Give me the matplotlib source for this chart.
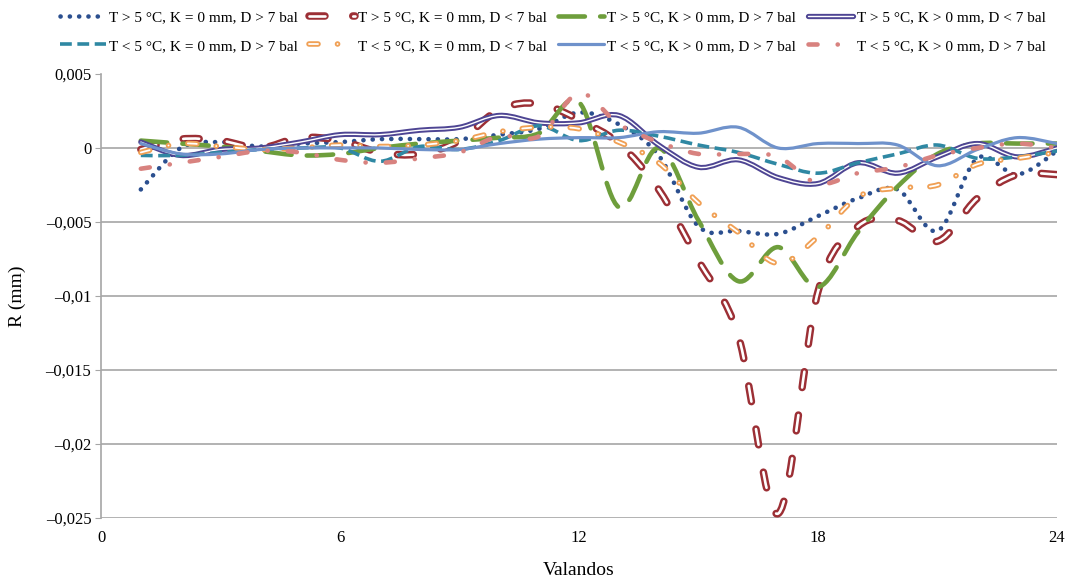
"""Hourly R (mm) for eight weather groups, smoothed lines like the Excel original."""
import numpy as np
import matplotlib
matplotlib.use("Agg")
import matplotlib.pyplot as plt
import matplotlib.patheffects as pe
from matplotlib.lines import Line2D
from matplotlib.patches import PathPatch
from matplotlib.path import Path

plt.rcParams["font.family"] = ["Liberation Serif", "DejaVu Serif"]
plt.rcParams["lines.scale_dashes"] = False  # dash lengths in points, not x linewidth

hours = list(range(1, 25))

labels = [
    "T > 5 °C, K = 0 mm, D > 7 bal",
    "T > 5 °C, K = 0 mm, D < 7 bal",
    "T > 5 °C, K > 0 mm, D > 7 bal",
    "T > 5 °C, K > 0 mm, D < 7 bal",
    "T < 5 °C, K = 0 mm, D > 7 bal",
    "T < 5 °C, K = 0 mm, D < 7 bal",
    "T < 5 °C, K > 0 mm, D > 7 bal",
    "T < 5 °C, K > 0 mm, D > 7 bal",
]

warm_dry_calm = [-0.0028, 0.0000, 0.0004, 0.0001, 0.0003, 0.0004, 0.0006, 0.0006,
                 0.0006, 0.0009, 0.0013, 0.0024, 0.0016, -0.0005, -0.0053, -0.0056,
                 -0.0058, -0.0046, -0.0034, -0.0028, -0.0056, -0.0007, -0.0018, -0.0002]
warm_dry_windy = [-0.0001, 0.0006, 0.0005, 0.0000, 0.0007, 0.0005, -0.0003, -0.0004,
                  0.0005, 0.0026, 0.0030, 0.0019, 0.0003, -0.0028, -0.0076, -0.0127,
                  -0.0247, -0.0097, -0.0053, -0.0049, -0.0063, -0.0034, -0.0018, -0.0018]
warm_wet_calm = [0.0005, 0.0003, 0.0001, -0.0002, -0.0005, -0.0004, 0.0000, 0.0003,
                 0.0005, 0.0007, 0.0010, 0.0031, -0.0040, 0.0000, -0.0049, -0.0090,
                 -0.0067, -0.0094, -0.0057, -0.0026, -0.0004, 0.0003, 0.0003, 0.0003]
warm_wet_windy = [0.0004, -0.0005, -0.0001, 0.0000, 0.0004, 0.0009, 0.0009, 0.0012,
                  0.0014, 0.0022, 0.0017, 0.0017, 0.0022, 0.0002, -0.0013, -0.0008,
                  -0.0020, -0.0024, -0.0010, -0.0017, -0.0006, 0.0003, -0.0006, 0.0000]
cold_dry_calm = [-0.0005, -0.0005, -0.0003, -0.0001, 0.0000, 0.0000, -0.0009, 0.0001,
                 -0.0001, 0.0005, 0.0015, 0.0005, 0.0012, 0.0008, 0.0002, -0.0003,
                 -0.0011, -0.0017, -0.0010, -0.0004, 0.0002, -0.0007, -0.0006, -0.0002]
cold_dry_windy = [-0.0003, 0.0003, 0.0001, -0.0001, 0.0000, 0.0002, 0.0001, 0.0002,
                  0.0005, 0.0011, 0.0014, 0.0013, 0.0004, -0.0010, -0.0037, -0.0057,
                  -0.0078, -0.0060, -0.0033, -0.0027, -0.0025, -0.0011, -0.0007, -0.0003]
cold_wet_calm = [0.0003, -0.0004, -0.0004, -0.0001, 0.0000, 0.0000, 0.0000, -0.0001,
                 -0.0001, 0.0003, 0.0006, 0.0007, 0.0007, 0.0011, 0.0010, 0.0014,
                 0.0000, 0.0003, 0.0003, 0.0002, -0.0012, -0.0001, 0.0007, 0.0003]
cold_wet_calm_b = [-0.0014, -0.0010, -0.0006, -0.0002, -0.0003, -0.0008, -0.0010, -0.0007,
                   -0.0003, 0.0008, 0.0008, 0.0037, 0.0016, 0.0004, -0.0004, -0.0004,
                   -0.0006, -0.0024, -0.0017, -0.0013, -0.0005, 0.0000, 0.0003, 0.0000]

series = [warm_dry_calm, warm_dry_windy, warm_wet_calm, warm_wet_windy,
          cold_dry_calm, cold_dry_windy, cold_wet_calm, cold_wet_calm_b]

y_ticks = [0.005, 0, -0.005, -0.01, -0.015, -0.02, -0.025]
x_ticks = [0, 6, 12, 18, 24]

# (colour, linewidth, dashes, capstyle, outline colour or None, outline width)
styles = [
    ("#2b4f8f", 3.3, (0, (0.1, 6.6)), "round", None, 0),
    ("white", 1.9, (0, (11.5, 20.0)), "round", "#9c2f35", 5.4),
    ("#6e9e3c", 3.3, (0, (19.0, 11.0)), "round", None, 0),
    ("white", 1.0, "solid", "round", "#4e4593", 3.8),
    ("#2f88a3", 2.6, (0, (8.5, 4.0)), "butt", None, 0),
    ("white", 1.3, (0, (6.5, 14.0, 0.1, 14.0)), "round", "#f0a055", 4.0),
    ("#6f92cb", 2.3, "solid", "round", None, 0),
    ("#d8827f", 3.3, (0, (6.5, 14.5, 0.1, 14.5)), "round", None, 0),
]


def smooth_path(x, y):
    """Cubic Bezier through every point (Catmull-Rom handles), as Excel smooths."""
    pts = np.column_stack([x, y]).astype(float)
    prev = np.vstack([pts[:1], pts[:-1]])
    nxt = np.vstack([pts[1:], pts[-1:]])
    tang = (nxt - prev) / 6.0
    verts = [pts[0]]
    for i in range(len(pts) - 1):
        verts += [pts[i] + tang[i], pts[i + 1] - tang[i + 1], pts[i + 1]]
    codes = [Path.MOVETO] + [Path.CURVE4] * (3 * (len(pts) - 1))
    return Path(verts, codes)


def effects(edge, width):
    if edge is None:
        return []
    return [pe.Stroke(linewidth=width, foreground=edge), pe.Normal()]


fig = plt.figure(figsize=(10.67, 5.82), dpi=100)
ax = fig.add_axes([101 / 1067, 1 - 518 / 582, (1057 - 101) / 1067, (518 - 74) / 582])

handles = []
for vals, lab, (col, lw, ls, cap, edge, ew) in zip(series, labels, styles):
    patch = PathPatch(smooth_path(hours, vals), fill=False, edgecolor=col, linewidth=lw,
                      linestyle=ls, capstyle=cap, joinstyle="round", zorder=3)
    patch.set_path_effects(effects(edge, ew))
    ax.add_patch(patch)
    h = Line2D([], [], color=col, lw=lw, ls=ls, label=lab,
               dash_capstyle=cap, solid_capstyle=cap)
    h.set_path_effects(effects(edge, ew))
    handles.append(h)

ax.set_xlim(0, 24)
ax.set_ylim(-0.025, 0.005)
ax.set_xticks(x_ticks)
ax.set_yticks(y_ticks)
ax.set_yticklabels(["0" if v == 0 else f"{v:g}".replace(".", ",").replace("-", "\u2013")
                    for v in y_ticks])
ax.tick_params(axis="x", length=0, pad=9, labelsize=12)
ax.tick_params(axis="y", length=4, color="#a6a6a6", pad=3, labelsize=12)

for side in ("top", "right", "bottom"):
    ax.spines[side].set_visible(False)
ax.spines["left"].set_color("#a6a6a6")
ax.spines["left"].set_linewidth(1.2)
ax.grid(axis="y", color="#a6a6a6", lw=1.2)
ax.set_axisbelow(True)
ax.yaxis.get_gridlines()[0].set_visible(False)  # no rule along the top value

ax.set_xlabel("Valandos", fontsize=14, labelpad=11)
ax.set_ylabel("R (mm)", fontsize=14, labelpad=14)

# Excel fills the legend row by row; matplotlib fills columns, so interleave.
order = [0, 4, 1, 5, 2, 6, 3, 7]
fig.legend([handles[i] for i in order], [labels[i] for i in order],
           loc="upper center", bbox_to_anchor=(0.518, 1.005), ncol=4, frameon=False,
           fontsize=11, handlelength=3.0, handletextpad=0.2, columnspacing=0.75,
           labelspacing=0.95)

fig.savefig("out.png", dpi=100)
